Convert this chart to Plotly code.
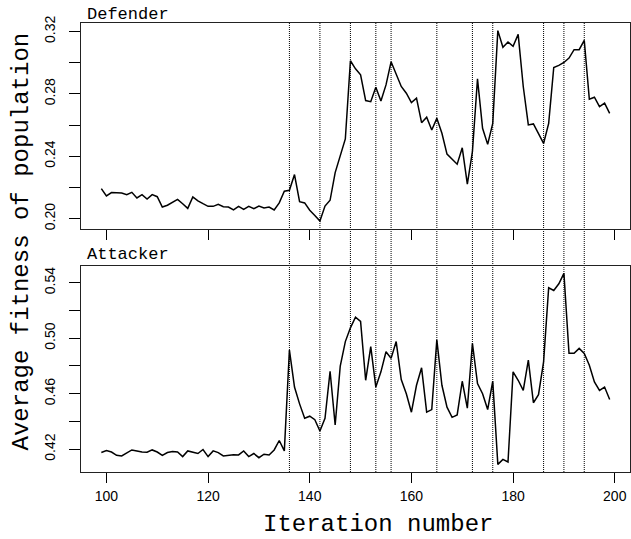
import plotly.graph_objects as go

iterations = list(range(99, 200))

defender = [0.2193, 0.2146, 0.2167, 0.2165, 0.2165, 0.2154, 0.2169, 0.2133, 0.2154, 0.2126,
            0.2154, 0.2141, 0.2075, 0.2086, 0.2107, 0.2124, 0.2096, 0.2066, 0.2139, 0.2114,
            0.2096, 0.2079, 0.2079, 0.2092, 0.2077, 0.2075, 0.2056, 0.2079, 0.2060, 0.2079,
            0.2064, 0.2081, 0.2069, 0.2075, 0.2056, 0.2101, 0.2176, 0.2182, 0.2283, 0.2109,
            0.2101, 0.2054, 0.2021, 0.1985, 0.2081, 0.2118, 0.2295, 0.2397, 0.2511, 0.3012,
            0.2960, 0.2922, 0.2757, 0.2750, 0.2842, 0.2754, 0.2857, 0.3005, 0.2928, 0.2847,
            0.2804, 0.2744, 0.2772, 0.2615, 0.2650, 0.2568, 0.2643, 0.2547, 0.2414, 0.2379,
            0.2349, 0.2454, 0.2221, 0.2429, 0.2896, 0.2579, 0.2476, 0.2611, 0.3205, 0.3098,
            0.3132, 0.3104, 0.3181, 0.2847, 0.2601, 0.2607, 0.2547, 0.2482, 0.2611, 0.2969,
            0.2982, 0.3001, 0.3029, 0.3083, 0.3083, 0.3143, 0.2765, 0.2778, 0.2718, 0.2740,
            0.2675]

attacker = [0.4176, 0.4190, 0.4180, 0.4156, 0.4152, 0.4171, 0.4195, 0.4188, 0.4180, 0.4178,
            0.4195, 0.4180, 0.4156, 0.4176, 0.4183, 0.4180, 0.4147, 0.4188, 0.4176, 0.4169,
            0.4198, 0.4147, 0.4188, 0.4176, 0.4152, 0.4156, 0.4161, 0.4159, 0.4188, 0.4147,
            0.4169, 0.4139, 0.4164, 0.4159, 0.4195, 0.4263, 0.4188, 0.4915, 0.4648, 0.4527,
            0.4423, 0.4438, 0.4413, 0.4331, 0.4423, 0.4762, 0.4375, 0.4800, 0.4976, 0.5075,
            0.5152, 0.5121, 0.4697, 0.4939, 0.4648, 0.4758, 0.4903, 0.4855, 0.4976, 0.4702,
            0.4600, 0.4467, 0.4661, 0.4787, 0.4467, 0.4486, 0.4988, 0.4661, 0.4503, 0.4430,
            0.4447, 0.4690, 0.4496, 0.4964, 0.4673, 0.4600, 0.4486, 0.4690, 0.4091, 0.4127,
            0.4108, 0.4758, 0.4697, 0.4624, 0.4842, 0.4535, 0.4593, 0.4830, 0.5364, 0.5344,
            0.5393, 0.5468, 0.4891, 0.4891, 0.4927, 0.4891, 0.4806, 0.4685, 0.4624, 0.4648,
            0.4559]

event_iterations = [136, 142, 148, 153, 156, 165, 172, 176, 186, 190, 194]

x_ticks = [100, 120, 140, 160, 180, 200]
def_ticks = [0.20, 0.22, 0.24, 0.26, 0.28, 0.30, 0.32]
def_ticktext = ["0.20", "", "0.24", "", "0.28", "", "0.32"]
att_ticks = [0.42, 0.44, 0.46, 0.48, 0.50, 0.52, 0.54]
att_ticktext = ["0.42", "", "0.46", "", "0.50", "", "0.54"]


def ext_range(vals, frac=0.04):
    lo, hi = min(vals), max(vals)
    d = (hi - lo) * frac
    return [lo - d, hi + d]


xr = ext_range(iterations)

fig = go.Figure()
fig.add_trace(go.Scatter(x=iterations, y=defender, mode="lines",
                         line=dict(color="black", width=1.5),
                         xaxis="x", yaxis="y", showlegend=False))
fig.add_trace(go.Scatter(x=iterations, y=attacker, mode="lines",
                         line=dict(color="black", width=1.5),
                         xaxis="x2", yaxis="y2", showlegend=False))

for it in event_iterations:
    fig.add_shape(type="line", xref="x", yref="paper", x0=it, x1=it, y0=0, y1=1,
                  line=dict(color="black", width=1, dash="1px,1px"), layer="below")

tickfont = dict(family="Liberation Sans, Arial, sans-serif", size=14, color="black")
mono = "Liberation Mono, Courier New, monospace"

common_x = dict(range=xr, tickvals=x_ticks, ticks="outside", ticklen=10, tickwidth=1,
                tickcolor="black", showline=True, mirror=True, linecolor="#222",
                linewidth=1.3, showgrid=False, zeroline=False, tickfont=tickfont)
common_y = dict(ticks="outside", ticklen=11, tickwidth=1, tickcolor="black",
                showline=True, mirror=True, linecolor="#222", linewidth=1.3,
                showgrid=False, zeroline=False, tickangle=-90, tickfont=tickfont,
                ticklabelstandoff=8)

fig.update_layout(
    width=631, height=539,
    margin=dict(l=81, r=1, t=23, b=67),
    paper_bgcolor="white", plot_bgcolor="white",
    xaxis=dict(domain=[0, 1], anchor="y", showticklabels=False, **common_x),
    yaxis=dict(domain=[0.542, 1], anchor="x", range=ext_range(defender),
               tickvals=def_ticks, ticktext=def_ticktext, **common_y),
    xaxis2=dict(domain=[0, 1], anchor="y2", ticklabelstandoff=1, **common_x),
    yaxis2=dict(domain=[0, 0.4595], anchor="x2", range=ext_range(attacker),
                tickvals=att_ticks, ticktext=att_ticktext, **common_y),
    annotations=[
        dict(text="Defender", xref="paper", yref="paper", x=0, y=1, xanchor="left",
             yanchor="bottom", xshift=4, yshift=-3, showarrow=False,
             font=dict(family=mono, size=17, color="black")),
        dict(text="Attacker", xref="paper", yref="paper", x=0, y=0.4595, xanchor="left",
             yanchor="bottom", xshift=4, yshift=0, showarrow=False,
             font=dict(family=mono, size=17, color="black")),
        dict(text="Iteration number", xref="paper", yref="paper", x=0.5416, y=-0.118,
             xanchor="center", yanchor="middle", showarrow=False,
             font=dict(family=mono, size=24, color="black")),
        dict(text="Average fitness of population", xref="paper", yref="paper",
             x=-0.1075, y=0.5134, xanchor="center", yanchor="middle", textangle=-90,
             showarrow=False, font=dict(family=mono, size=24, color="black")),
    ],
)

fig.write_html("out.html")
